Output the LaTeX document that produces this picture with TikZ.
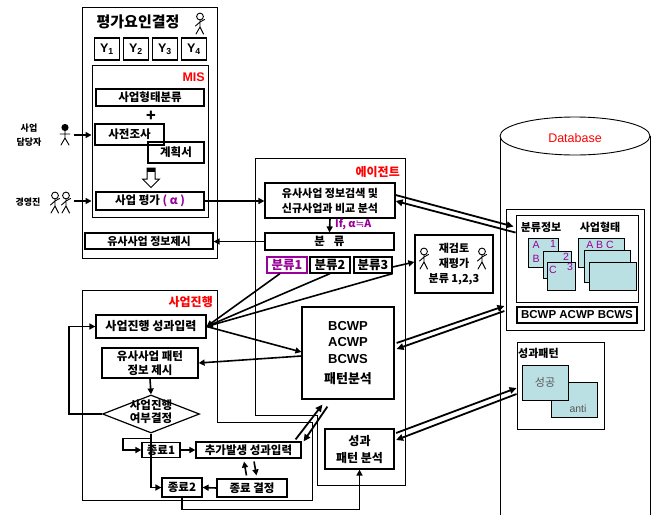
\documentclass[tikz,border=0pt]{standalone}
\usepackage{fontspec}
\setmainfont{Noto Sans CJK KR}
\newfontfamily\arial{Liberation Sans}
\newfontfamily\dejavu{DejaVu Sans}
\usetikzlibrary{arrows.meta,shapes.geometric}

\definecolor{pur}{RGB}{153,0,153}
\definecolor{cardc}{RGB}{187,224,227}
\definecolor{soft}{RGB}{85,85,85}
\newcommand{\fsz}[2]{\fontsize{#1pt}{#2pt}\selectfont}

\tikzset{
  sz/.style 2 args={minimum width=#1pt, minimum height=#2pt},
  box/.style={draw, line width=1.2pt, inner sep=0pt, align=center, font=\fsz{11.5}{14}\bfseries},
  frame/.style={draw, line width=0.9pt, inner sep=0pt},
  redttl/.style={text=red, inner sep=0pt, font=\fsz{12}{12}\bfseries},
  plain/.style={inner sep=0pt, align=center},
  flow/.style={line width=1.6pt, -{Triangle[length=6pt,width=6pt]}},
  dbl/.style={line width=1.8pt, -{Triangle[length=7pt,width=6.5pt]}},
  card/.style={draw, line width=0.9pt, fill=cardc, inner sep=0pt},
  cardtxt/.style={inner sep=0pt, text=pur, font=\arial\fsz{10.5}{10.5}},
  stickman/.pic={
    \draw[line width=0.9pt] (0,-6.5) circle[radius=3.4pt];
    \draw[line width=0.9pt, line cap=round, line join=round]
      (0,-3.1) -- (0,4) (-4,11) -- (0,4) -- (3.5,11)
      (-4.5,3) -- (0,-1) -- (4.5,-3.5);
  },
  stickmanfill/.pic={
    \fill (0,-6.5) circle[radius=3.6pt];
    \draw[line width=0.9pt, line cap=round, line join=round]
      (0,-3.1) -- (0,4) (-4,11) -- (0,4) -- (4,11)
      (-5,0) -- (5,0);
  },
}

\begin{document}
\begin{tikzpicture}[x=1pt,y=-1pt]
\useasboundingbox (0,0) rectangle (659,515);

% ---------------- database cylinder ----------------
\fill[white] (500,136) rectangle (650,515);
\draw[line width=0.9pt] (500,136) -- (500,515);
\draw[line width=0.9pt] (650,136) -- (650,515);
\draw[line width=0.9pt, fill=white] (575,136) ellipse [x radius=75pt, y radius=19pt];
\node[plain, text=red, font=\arial\fsz{12.5}{12.5}] (dbtitle) at (575,138) {Database};

\node[frame, sz={138}{121}, fill=white] (dbinner) at (575,269.5) {};
\node[frame, sz={122}{87}] (classinfo) at (577,258.5) {};
\node[plain, font=\fsz{11}{11}\bfseries] (classlbl) at (541,227) {분류정보};
\node[plain, font=\fsz{11}{11}\bfseries] (kindlbl) at (600,227) {사업형태};

\node[card, sz={30}{29}] (ca) at (543,252.5) {};
\node[cardtxt] (ta) at (536,245) {A};
\node[cardtxt] (tb) at (536,259) {B};
\node[cardtxt] (t1) at (553,244) {1};
\node[card, sz={28}{27}] (cb) at (557,264.5) {};
\node[cardtxt] (t2) at (566,257) {2};
\node[card, sz={28}{28}] (cc) at (561,276) {};
\node[cardtxt] (tc) at (553,270) {C};
\node[cardtxt] (t3) at (570,267) {3};

\node[card, sz={46}{29}] (cd) at (601,252.5) {};
\node[cardtxt] (tabc) at (600,245) {A B C};
\node[card, sz={46}{32}] (ce) at (607,266) {};
\node[card, sz={47}{28}] (cf) at (612.5,276) {};

\node[box, sz={120}{16}, font=\arial\fsz{11.5}{11.5}\bfseries] (metric) at (577,315) {BCWP ACWP BCWS};

\node[frame, sz={87}{87}, fill=white] (ppat) at (560.5,385.5) {};
\node[plain, anchor=west, font=\fsz{11}{11}\bfseries] (ppatlbl) at (518,353) {성과패턴};
\node[card, sz={46}{35}] (anti) at (574,399.5) {};
\node[plain, text=soft, font=\arial\fsz{10.5}{10.5}] (antitxt) at (578,409) {anti};
\node[card, sz={46}{35}, text=soft, font=\fsz{11}{11}] (succ) at (545,382.5) {성공};

% ---------------- evaluation factor panel ----------------
\node[frame, sz={135}{251}] (evalpanel) at (149.5,132.5) {};
\node[plain, font=\fsz{15}{15}\bfseries] (evaltitle) at (138,22) {평가요인결정};
\pic at (200,23) {stickman};
\foreach \i/\x in {1/107,2/136,3/165,4/194}
  \node[box, sz={25}{22}, font=\arial\fsz{12.5}{12.5}\bfseries] (y\i) at (\x,49) {Y\textsubscript{\i}};

\node[frame, sz={116}{152}] (mis) at (150,141) {};
\node[redttl, anchor=east, font=\arial\fsz{12.5}{12.5}\bfseries] (mislbl) at (205,77) {MIS};
\node[box, sz={108}{17}] (kind) at (150,97.5) {사업형태분류};
\node[plain, font=\fsz{16}{16}\bfseries] (plus) at (151,116) {+};
\node[box, sz={69}{21}] (survey) at (129.5,134.5) {사전조사};
\node[box, sz={56}{21}] (plan) at (176,152.5) {계획서};
% hollow block arrow
\draw[line width=1pt, line join=miter] (147,168) -- (155,168) -- (155,179) -- (159.5,179)
  -- (151,187.5) -- (142.5,179) -- (147,179) -- cycle;
\fill (147,168) rectangle (155,171.5);
\node[box, sz={108}{18}] (assess) at (150,201) {사업 평가 \textcolor{pur}{( α )}};
\node[box, sz={128}{16}, font=\fsz{11}{14}\bfseries] (simshow) at (149,241) {유사사업 정보제시};

% actors on the left
\node[plain, font=\fsz{9}{14}\bfseries] (mgr) at (29,135) {사업\\담당자};
\pic at (65,134) {stickmanfill};
\coordinate (mgrhand) at (74,135);
\node[plain, font=\fsz{9}{9}\bfseries] (exec) at (28,202) {경영진};
\pic at (55,202) {stickman};
\pic at (66,202) {stickman};
\coordinate (exechand) at (74,201);
\draw[flow] (mgrhand) -- (mgrhand -| mis.west);
\draw[flow] (exechand) -- (exechand -| mis.west);

% ---------------- agent panel ----------------
\draw[line width=0.9pt] (255,158) -- (405,158) -- (405,485) -- (317,485) -- (317,415)
  -- (255,415) -- cycle;
\node[redttl, anchor=east] (agentlbl) at (400,172) {에이전트};
\node[box, sz={130}{35}, font=\fsz{11}{15}\bfseries] (search) at (330,200.5)
  {유사사업 정보검색 및\\신규사업과 비교 분석};
\node[box, sz={129}{17}] (classify) at (329.5,241.5) {분\hspace{9pt}류};
\node[plain, anchor=west, text=pur, font=\fsz{10.5}{10.5}\bfseries] (cond) at (335,224)
  {If, α{\dejavu\mdseries ≒}A};
\node[box, sz={40}{16}, draw=pur, text=pur, font=\fsz{12.5}{12.5}\bfseries] (c1) at (287,265) {분류1};
\node[box, sz={40}{16}, font=\fsz{12.5}{12.5}\bfseries] (c2) at (330,265) {분류2};
\node[box, sz={38}{16}, font=\fsz{12.5}{12.5}\bfseries] (c3) at (373,265) {분류3};

\node[box, sz={78}{58}, font=\fsz{11}{15}\bfseries] (recheck) at (454,264) {재검토\\재평가\\분류 1,2,3};
\pic at (424,258) {stickman};
\pic at (482,258) {stickman};

\node[box, sz={92}{92}, font=\arial\fsz{13}{16.5}\bfseries] (bcwp) at (348,353)
  {BCWP\\ACWP\\BCWS\\[4pt]{\rmfamily 패턴분석}};
\node[box, sz={69}{40}, font=\fsz{12}{17}\bfseries] (panal) at (359.5,449) {성과\\패턴 분석};

% ---------------- project progress panel ----------------
\draw[line width=0.9pt] (82,290) -- (217,290) -- (217,422) -- (312,422) -- (312,500)
  -- (82,500) -- cycle;
\node[redttl, anchor=east] (proglbl) at (213,302) {사업진행};
\node[box, sz={110}{23}, font=\fsz{12}{12}\bfseries] (perf) at (151,326.5) {사업진행 성과입력};
\node[box, sz={96}{30}, font=\fsz{11.5}{14}\bfseries] (pinfo) at (150,363) {유사사업 패턴\\정보 제시};
\node[draw, diamond, line width=1.2pt, sz={97}{38}, inner sep=0pt] (decide) at (151,414) {};
\node[plain, font=\fsz{11.5}{13}\bfseries] (decidetxt) at (151,412) {사업진행\\여부결정};
\node[box, sz={38}{15}] (end1) at (161,450) {종료1};
\node[box, sz={105}{16}] (add) at (248.5,450) {추가발생 성과입력};
\node[box, sz={70}{18}] (fin) at (252,488) {종료 결정};
\node[box, sz={40}{19}] (end2) at (182,487.5) {종료2};

% ---------------- connectors ----------------
\draw[flow] (assess.east) -- (assess.east -| search.west);
\draw[flow] (classify.west) -- (classify.west -| simshow.east);
\draw[flow] (search.south) -- (classify.north);
\draw[flow] ([yshift=-2pt]c3.east) -- ([yshift=2pt]recheck.west);

\draw[flow] ([xshift=-7pt]c1.south) -- (perf.east);
\draw[flow] (c2.south) -- (perf.east);
\draw[flow] (c3.south east) -- (perf.east);
\draw[flow] (perf.east) -- ([yshift=1pt]bcwp.west);
\draw[flow] ([yshift=-3pt]bcwp.west) -- (pinfo.east);

\draw[flow] (pinfo.south) -- (decide.north);
\draw[flow] (decide.west) -- ++(-33,0) |- (perf.west);
\draw[flow] (decide.south) |- (end2.west);
\draw[flow] (decide.south) ++(0,5) -- ++(-28,0) |- (end1.west);
\draw[flow] (end1.east) -- (add.west);
\draw[flow] (fin.west) -- (end2.east);
\draw[flow, shorten <=3pt, shorten >=3pt] ([xshift=-5pt]fin.north) -- ([xshift=-5pt]add.south);
\draw[flow, shorten <=3pt, shorten >=3pt] ([xshift=5pt]add.south) -- ([xshift=5pt]fin.north);
\draw[flow] (end2.south) -- ++(0,12) -| (panal.south);

\draw[dbl] ([xshift=-6pt,yshift=2pt]add.north east) -- ([xshift=21pt,yshift=-5pt]bcwp.south west);
\draw[dbl] ([xshift=26pt,yshift=-7pt]bcwp.south west) -- ([xshift=2pt]add.north east);

\draw[dbl] ([yshift=5.5pt]search.east) -- ([xshift=-2pt,yshift=-12pt]classinfo.north west);
\draw[dbl] ([yshift=-18pt]classinfo.north west) -- ([yshift=-0.5pt]search.east);

\draw[dbl] ([xshift=2pt,yshift=10pt]bcwp.east) -- ([xshift=-12pt,yshift=9pt]metric.west);
\draw[dbl] ([xshift=-12pt,yshift=4pt]metric.west) -- ([xshift=2pt,yshift=4pt]bcwp.east);

\draw[dbl] ([xshift=1.5pt,yshift=16pt]panal.east) -- ([yshift=-2.5pt]ppat.west);
\draw[dbl] ([yshift=-8.5pt]ppat.west) -- ([xshift=1.5pt,yshift=9pt]panal.east);
\end{tikzpicture}
\end{document}
